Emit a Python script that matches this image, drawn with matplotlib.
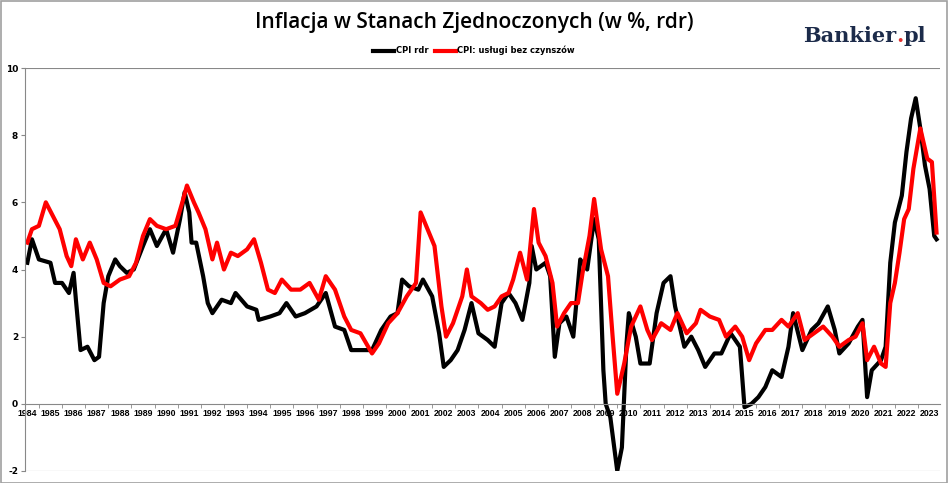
import matplotlib
matplotlib.use("Agg")
import matplotlib.pyplot as plt
from matplotlib.patches import Rectangle

# CPI rdr (black)
cpi_x = [1984.0, 1984.2, 1984.5, 1985.0, 1985.2, 1985.5, 1985.8, 1986.0, 1986.1, 1986.3, 1986.6, 1986.9,
         1987.1, 1987.3, 1987.5, 1987.8, 1988.0, 1988.3, 1988.6, 1989.0, 1989.3, 1989.6, 1990.0, 1990.3,
         1990.6, 1990.8, 1991.0, 1991.1, 1991.3, 1991.6, 1991.8, 1992.0, 1992.4, 1992.8, 1993.0, 1993.5,
         1993.9, 1994.0, 1994.5, 1994.9, 1995.2, 1995.6, 1996.0, 1996.5, 1996.9, 1997.3, 1997.7, 1998.0,
         1998.4, 1998.9, 1999.3, 1999.7, 2000.0, 2000.2, 2000.5, 2000.9, 2001.1, 2001.5, 2001.8, 2002.0,
         2002.3, 2002.6, 2002.9, 2003.2, 2003.5, 2003.9, 2004.2, 2004.5, 2004.8, 2005.1, 2005.4, 2005.7,
         2005.8, 2006.0, 2006.4, 2006.6, 2006.8, 2007.0, 2007.3, 2007.6, 2007.9, 2008.2, 2008.5, 2008.7,
         2008.9, 2009.0, 2009.2, 2009.5, 2009.7, 2009.9, 2010.0, 2010.3, 2010.5, 2010.9, 2011.2, 2011.5,
         2011.8, 2012.0, 2012.4, 2012.7, 2013.0, 2013.3, 2013.7, 2014.0, 2014.4, 2014.8, 2015.0, 2015.3,
         2015.6, 2015.9, 2016.2, 2016.6, 2016.9, 2017.1, 2017.5, 2017.9, 2018.2, 2018.6, 2018.9, 2019.1,
         2019.5, 2019.9, 2020.1, 2020.3, 2020.5, 2020.9, 2021.1, 2021.3, 2021.5, 2021.8, 2022.0, 2022.2,
         2022.4, 2022.6, 2022.8, 2023.0, 2023.2, 2023.3]
cpi_y = [4.2, 4.9, 4.3, 4.2, 3.6, 3.6, 3.3, 3.9, 3.1, 1.6, 1.7, 1.3,
         1.4, 3.0, 3.8, 4.3, 4.1, 3.9, 4.0, 4.7, 5.2, 4.7, 5.2, 4.5,
         5.5, 6.3, 5.7, 4.8, 4.8, 3.8, 3.0, 2.7, 3.1, 3.0, 3.3, 2.9,
         2.8, 2.5, 2.6, 2.7, 3.0, 2.6, 2.7, 2.9, 3.3, 2.3, 2.2, 1.6,
         1.6, 1.6, 2.2, 2.6, 2.7, 3.7, 3.5, 3.4, 3.7, 3.2, 2.1, 1.1,
         1.3, 1.6, 2.2, 3.0, 2.1, 1.9, 1.7, 3.0, 3.3, 3.0, 2.5, 3.6,
         4.7, 4.0, 4.2, 3.8, 1.4, 2.4, 2.6, 2.0, 4.3, 4.0, 5.5, 4.9,
         1.0, 0.0, -0.4, -2.0, -1.3, 1.8, 2.7, 2.0, 1.2, 1.2, 2.7, 3.6,
         3.8, 2.9, 1.7, 2.0, 1.6, 1.1, 1.5, 1.5, 2.1, 1.7, -0.1, 0.0,
         0.2, 0.5, 1.0, 0.8, 1.7, 2.7, 1.6, 2.2, 2.4, 2.9, 2.2, 1.5,
         1.8, 2.3, 2.5, 0.2, 1.0, 1.3, 1.7, 4.2, 5.4, 6.2, 7.5, 8.5,
         9.1, 8.2, 7.1, 6.4, 5.0, 4.9]

# CPI: usługi bez czynszów (red)
svc_x = [1984.0, 1984.2, 1984.5, 1984.8, 1985.1, 1985.4, 1985.7, 1985.9, 1986.1, 1986.4, 1986.7, 1987.0,
         1987.3, 1987.6, 1988.0, 1988.4, 1988.7, 1989.0, 1989.3, 1989.6, 1990.0, 1990.4, 1990.7, 1990.9,
         1991.2, 1991.4, 1991.7, 1992.0, 1992.2, 1992.5, 1992.8, 1993.1, 1993.5, 1993.8, 1994.1, 1994.4,
         1994.7, 1995.0, 1995.4, 1995.8, 1996.2, 1996.6, 1996.9, 1997.3, 1997.7, 1998.0, 1998.4, 1998.9,
         1999.2, 1999.6, 2000.0, 2000.4, 2000.8, 2001.0, 2001.3, 2001.6, 2001.9, 2002.1, 2002.4, 2002.8,
         2003.0, 2003.2, 2003.6, 2003.9, 2004.2, 2004.5, 2004.8, 2005.0, 2005.3, 2005.6, 2005.9, 2006.1,
         2006.4, 2006.7, 2006.9, 2007.2, 2007.5, 2007.8, 2008.0, 2008.3, 2008.5, 2008.8, 2009.1, 2009.3,
         2009.5, 2009.8, 2010.1, 2010.5, 2010.8, 2011.0, 2011.4, 2011.8, 2012.1, 2012.5, 2012.9, 2013.1,
         2013.5, 2013.9, 2014.2, 2014.6, 2014.9, 2015.2, 2015.5, 2015.9, 2016.2, 2016.6, 2016.9, 2017.3,
         2017.6, 2018.0, 2018.4, 2018.8, 2019.1, 2019.5, 2019.8, 2020.1, 2020.3, 2020.6, 2020.9, 2021.1,
         2021.3, 2021.5, 2021.7, 2021.9, 2022.1, 2022.3, 2022.5, 2022.6, 2022.9, 2023.1, 2023.3]
svc_y = [4.8, 5.2, 5.3, 6.0, 5.6, 5.2, 4.4, 4.1, 4.9, 4.3, 4.8, 4.3,
         3.6, 3.5, 3.7, 3.8, 4.2, 5.0, 5.5, 5.3, 5.2, 5.3, 6.0, 6.5,
         6.0, 5.7, 5.2, 4.3, 4.8, 4.0, 4.5, 4.4, 4.6, 4.9, 4.2, 3.4,
         3.3, 3.7, 3.4, 3.4, 3.6, 3.1, 3.8, 3.4, 2.6, 2.2, 2.1, 1.5,
         1.8, 2.4, 2.7, 3.2, 3.6, 5.7, 5.2, 4.7, 2.9, 2.0, 2.4, 3.2,
         4.0, 3.2, 3.0, 2.8, 2.9, 3.2, 3.3, 3.7, 4.5, 3.7, 5.8, 4.8,
         4.4, 3.6, 2.3, 2.7, 3.0, 3.0, 3.9, 5.0, 6.1, 4.6, 3.8, 2.0,
         0.3, 1.2, 2.3, 2.9, 2.2, 1.9, 2.4, 2.2, 2.7, 2.1, 2.4, 2.8,
         2.6, 2.5, 2.0, 2.3, 2.0, 1.3, 1.8, 2.2, 2.2, 2.5, 2.3, 2.7,
         1.9, 2.1, 2.3, 2.0, 1.7, 1.9, 2.0, 2.4, 1.3, 1.7, 1.2, 1.1,
         3.0, 3.6, 4.5, 5.5, 5.8, 7.0, 7.8, 8.2, 7.3, 7.2, 5.1]

years = list(range(1984, 2024))
y_ticks = [-2, 0, 2, 4, 6, 8, 10]

fig = plt.figure(figsize=(9.48, 4.83), dpi=100)
fig.patches.append(Rectangle((0.001, 0.001), 0.998, 0.997, transform=fig.transFigure,
                             fill=False, edgecolor="#a0a0a0", linewidth=1.2))
ax = fig.add_axes([25 / 948, 12 / 483, 915 / 948, 403 / 483])

# spine position first: set_position resets the tick setup
ax.spines["top"].set_visible(False)
ax.spines["right"].set_visible(False)
ax.spines["left"].set_color("#888888")
ax.spines["bottom"].set_position(("data", 0))
ax.spines["bottom"].set_color("#888888")

ax.plot(cpi_x, cpi_y, color="black", linewidth=3, label="CPI rdr")
ax.plot(svc_x, svc_y, color="#ff0000", linewidth=3, label="CPI: usługi bez czynszów")
ax.axhline(10, color="#888888", linewidth=0.8)
ax.axhline(-2, color="#888888", linewidth=0.8)

ax.set_xlim(1983.9, 2023.45)
ax.set_ylim(-2, 10)
ax.set_yticks(y_ticks)
ax.set_yticklabels([str(v) for v in y_ticks], fontsize=6.5, fontweight="bold")
ax.set_xticks(years)
ax.set_xticklabels([str(y) for y in years], fontsize=6.3, fontweight="bold", family="Liberation Sans")
ax.set_xticks([y + 0.5 for y in years[:-1]], minor=True)
ax.tick_params(axis="x", which="major", length=0, pad=4)
ax.tick_params(axis="x", which="minor", length=3, color="#888888")
ax.tick_params(axis="y", length=3, color="#888888", pad=2)

fig.text(0.5, 0.953, "Inflacja w Stanach Zjednoczonych (w %, rdr)", ha="center", va="center",
         fontsize=15, family="Open Sans", fontweight="semibold")

# logo
renderer = fig.canvas.get_renderer()
x0 = 0.847
for part, col in [("Bankier", "#1c2b4a"), (".", "#e03030"), ("pl", "#1c2b4a")]:
    t = fig.text(x0, 0.925, part, ha="left", va="center", fontsize=15, family="DejaVu Serif",
                 fontweight="bold", color=col)
    bb = t.get_window_extent(renderer)
    x0 += bb.width / fig.bbox.width

fig.legend(loc="center", bbox_to_anchor=(0.5, 0.895), ncol=2, frameon=False,
           prop={"size": 6, "weight": "bold"}, handlelength=2.5, columnspacing=0.8, handletextpad=0.2)

fig.savefig("out.png", dpi=100)
